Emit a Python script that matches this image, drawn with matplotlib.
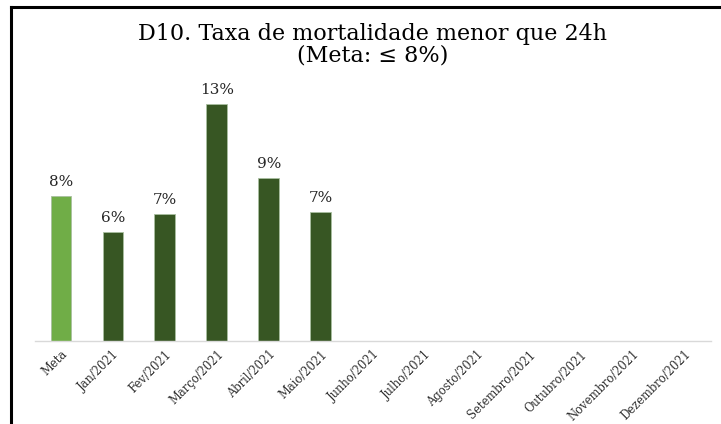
import matplotlib
matplotlib.use('Agg')
import matplotlib.pyplot as plt
from matplotlib.lines import Line2D

plt.rcParams['font.family'] = ['DejaVu Serif']

# dados
categorias = ['Meta', 'Jan/2021', 'Fev/2021', 'Março/2021', 'Abril/2021', 'Maio/2021',
              'Junho/2021', 'Julho/2021', 'Agosto/2021', 'Setembro/2021', 'Outubro/2021',
              'Novembro/2021', 'Dezembro/2021']
valores = [8.0, 6.0, 7.0, 13.1, 9.0, 7.1]
rotulos = ['8%', '6%', '7%', '13%', '9%', '7%']
cores = ['#70AD47', '#375623', '#375623', '#375623', '#375623', '#375623']

fig = plt.figure(figsize=(7.21, 4.24), dpi=100)
ax = fig.add_axes([0.0485, 0.1958, 0.937, 0.615])

x = list(range(len(categorias)))
barras = ax.bar(x[:len(valores)], valores, width=0.4, color=cores,
                edgecolor='#A9BFA0', linewidth=0.6)

for b, r in zip(barras, rotulos):
    ax.text(b.get_x() + b.get_width() / 2, b.get_height() + 0.4, r,
            ha='center', va='bottom', fontsize=11, color='#262626')

ax.set_xlim(-0.5, len(categorias) - 0.5)
ax.set_ylim(0, 14.4)
ax.set_xticks(x)
ax.set_xticklabels(categorias, rotation=45, ha='right', rotation_mode='anchor',
                   fontsize=8.3, color='#303030')
ax.tick_params(axis='x', length=0, pad=5)
ax.set_yticks([])
for s in ['top', 'right', 'left']:
    ax.spines[s].set_visible(False)
ax.spines['bottom'].set_color('#D9D9D9')
ax.spines['bottom'].set_linewidth(1)

fig.text(0.517, 0.895, 'D10. Taxa de mortalidade menor que 24h\n(Meta: ≤ 8%)',
         ha='center', va='center', fontsize=16, color='#000000', linespacing=1.0)

# moldura preta (esquerda e topo)
fig.add_artist(Line2D([10.5 / 721, 10.5 / 721], [0, 1 - 7 / 424], color='black',
                      linewidth=2.2, transform=fig.transFigure))
fig.add_artist(Line2D([10.5 / 721, 1], [1 - 7 / 424, 1 - 7 / 424], color='black',
                      linewidth=2.2, transform=fig.transFigure))

fig.savefig('out.png', dpi=100)
